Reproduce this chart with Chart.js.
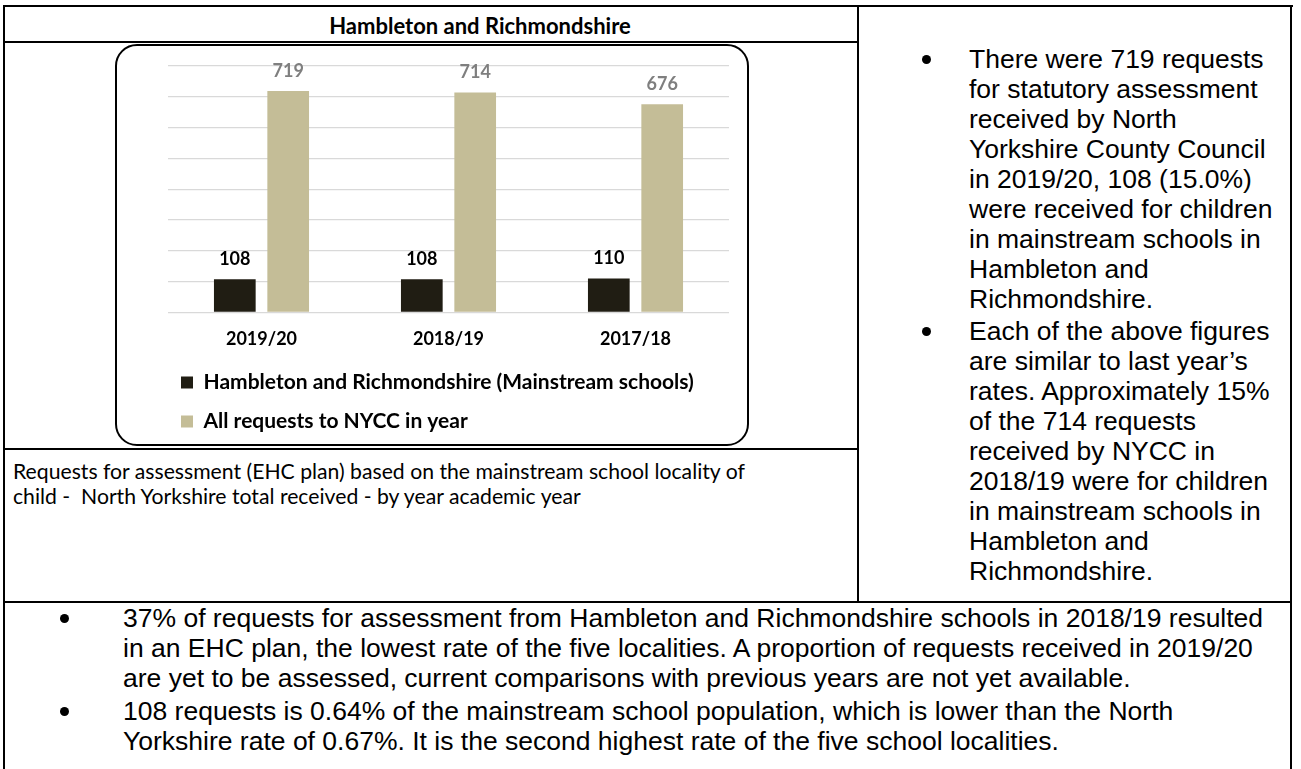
<!DOCTYPE html>
<html>
<head>
<meta charset="utf-8">
<script src="https://cdn.jsdelivr.net/npm/chart.js@4.4.0/dist/chart.umd.min.js"></script>
<style>
  html, body { margin: 0; padding: 0; background: #fff; width: 1301px; height: 769px; overflow: hidden; }
  .ln { position: absolute; background: #000; }
  .t { position: absolute; white-space: nowrap; color: #000; }
  .arial { font-family: "Liberation Sans", Arial, sans-serif; font-size: 26.5px; line-height: 30px; }
  .cal { font-family: Lato, sans-serif; }
  .dot { position: absolute; width: 9px; height: 9px; border-radius: 50%; background: #000; }
  #box { position: absolute; left: 115px; top: 44px; width: 634px; height: 402px; box-sizing: border-box;
         border: 2px solid #000; border-radius: 22px; }
  #wrap { position: absolute; left: 117px; top: 46px; width: 630px; height: 398px; }
</style>
</head>
<body>
<!-- table rules -->
<div class="ln" style="left:3px;top:5px;width:1290px;height:2px"></div>
<div class="ln" style="left:3px;top:5px;width:2px;height:764px"></div>
<div class="ln" style="left:1290px;top:5px;width:2px;height:764px"></div>
<div class="ln" style="left:857px;top:5px;width:2px;height:598px"></div>
<div class="ln" style="left:3px;top:41px;width:856px;height:2px"></div>
<div class="ln" style="left:3px;top:448px;width:856px;height:2px"></div>
<div class="ln" style="left:3px;top:601px;width:1289px;height:2px"></div>

<div class="t cal" style="left:180px;width:600px;top:11px;text-align:center;font-weight:bold;font-size:22px;line-height:30px">Hambleton and Richmondshire</div>

<div id="box"></div>
<div id="wrap"><canvas id="chart"></canvas></div>

<div class="t cal" style="left:13px;top:459px;font-size:21.2px;line-height:25px">Requests for assessment (EHC plan) based on the mainstream school locality of<br>child -&nbsp; North Yorkshire total received - by year academic year</div>

<!-- right column -->
<div class="dot" style="left:922px;top:55px"></div>
<div class="dot" style="left:922px;top:327px"></div>
<div class="t arial" style="left:969px;top:44px">There were 719 requests<br>for statutory assessment<br>received by North<br>Yorkshire County Council<br>in 2019/20, 108 (15.0%)<br>were received for children<br>in mainstream schools in<br>Hambleton and<br>Richmondshire.</div>
<div class="t arial" style="left:969px;top:316px">Each of the above figures<br>are similar to last year’s<br>rates. Approximately 15%<br>of the 714 requests<br>received by NYCC in<br>2018/19 were for children<br>in mainstream schools in<br>Hambleton and<br>Richmondshire.</div>

<!-- bottom row -->
<div class="dot" style="left:60px;top:614px"></div>
<div class="dot" style="left:60px;top:707px"></div>
<div class="t arial" style="left:123px;top:603px">37% of requests for assessment from Hambleton and Richmondshire schools in 2018/19 resulted<br>in an EHC plan, the lowest rate of the five localities. A proportion of requests received in 2019/20<br>are yet to be assessed, current comparisons with previous years are not yet available.</div>
<div class="t arial" style="left:123px;top:696px">108 requests is 0.64% of the mainstream school population, which is lower than the North<br>Yorkshire rate of 0.67%. It is the second highest rate of the five school localities.</div>

<script>
const categories = ['2019/20', '2018/19', '2017/18'];
const localityRequests = [108, 108, 110];
const allRequests = [719, 714, 676];
const seriesNames = ['Hambleton and Richmondshire (Mainstream schools)', 'All requests to NYCC in year'];
const yMax = 800;
const yStep = 100;

// value labels above each bar
const barLabels = {
  id: 'barLabels',
  afterDatasetsDraw(chart) {
    const ctx = chart.ctx;
    ctx.save();
    ctx.font = 'bold 18px Lato';
    ctx.textAlign = 'center';
    ctx.textBaseline = 'middle';
    chart.data.datasets.forEach((ds, i) => {
      ctx.fillStyle = i === 0 ? '#000000' : '#7f7f7f';
      chart.getDatasetMeta(i).data.forEach((bar, j) => {
        ctx.fillText(String(ds.data[j]), bar.x, bar.y - 20);
      });
    });
    ctx.restore();
  }
};

const canvas = document.getElementById('chart');
canvas.chart = new Chart(canvas, {
  type: 'bar',
  data: {
    labels: categories,
    datasets: [
      {
        label: seriesNames[0],
        data: localityRequests,
        backgroundColor: '#201d13',
        borderWidth: 0,
        categoryPercentage: 0.571,
        barPercentage: 0.781,
      },
      {
        label: seriesNames[1],
        data: allRequests,
        backgroundColor: '#c4bd97',
        borderWidth: 0,
        categoryPercentage: 0.571,
        barPercentage: 0.781,
      },
    ],
  },
  options: {
    responsive: true,
    maintainAspectRatio: false,
    animation: false,
    layout: { padding: { left: 46, right: 18, top: 20, bottom: 2 } },
    scales: {
      x: {
        grid: { display: false, drawTicks: false },
        border: { display: false },
        ticks: { color: '#000', padding: 16, font: { family: 'Lato', size: 18, weight: 'bold' } },
        afterFit(scale) { scale.height = 41.5; },
      },
      y: {
        min: 0,
        max: yMax,
        ticks: { display: false, stepSize: yStep },
        grid: { color: '#d9d9d9', lineWidth: 1.3, drawTicks: false },
        border: { display: false },
        afterFit(scale) { scale.width = 5; },
      },
    },
    plugins: {
      tooltip: { enabled: false },
      legend: {
        position: 'bottom',
        align: 'start',
        labels: {
          boxWidth: 12,
          boxHeight: 12,
          padding: 18,
          color: '#000',
          font: { family: 'Lato', size: 21, weight: 'bold' },
        },
      },
    },
  },
  plugins: [barLabels],
});
</script>
</body>
</html>
